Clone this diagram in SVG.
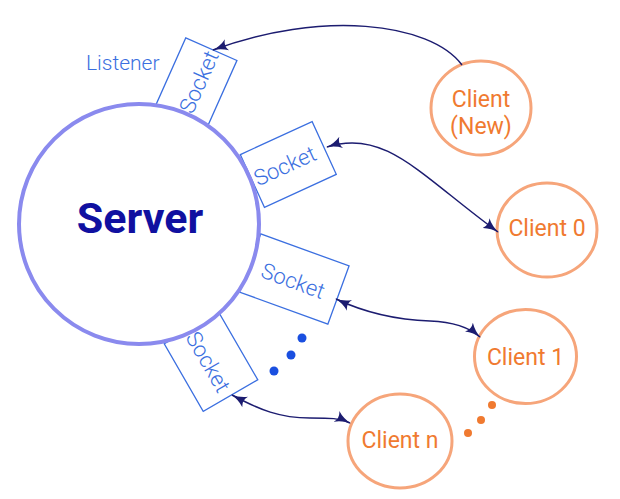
<svg xmlns="http://www.w3.org/2000/svg" width="620" height="499" viewBox="0 0 620 499">
<style>
.sock{fill:#fff;stroke:#3b6fe0;stroke-width:1.3}
.stxt{font-family:Roboto,"Liberation Sans",sans-serif;font-size:22px;font-weight:300;fill:#3b6fe0;text-anchor:middle;dominant-baseline:central}
.cli{fill:#fff;stroke:#f6a57a;stroke-width:3}
.ctxt{font-family:Roboto,"Liberation Sans",sans-serif;font-size:23px;fill:#f07a30;text-anchor:middle}
.con{fill:none;stroke:#1c1c70;stroke-width:1.5}
.bdot{fill:#1a4fe0}
.odot{fill:#f07a30}
</style>
<defs>
<marker id="arr" viewBox="0 0 16 12" refX="15" refY="6" markerWidth="16" markerHeight="12" markerUnits="userSpaceOnUse" orient="auto-start-reverse">
<path d="M0,0 Q7,5 16,6 Q7,7 0,12 Q4,6 0,0 Z" fill="#1c1c70"/>
</marker>
</defs>
<rect width="620" height="499" fill="#fff"/>
<g id="sockets">
<g id="socket-listener"><rect class="sock" x="-36.5" y="-28" width="73" height="56" transform="translate(196.5,82.5) rotate(-66)"/></g>
<g id="socket-0"><rect class="sock" x="-39.5" y="-29" width="79" height="58" transform="translate(288.3,164.5) rotate(-24.6)"/></g>
<g id="socket-1"><rect class="sock" x="-47" y="-31" width="94" height="62" transform="translate(294.3,279) rotate(20)"/></g>
<g id="socket-n"><rect class="sock" x="-39" y="-31.5" width="78" height="63" transform="translate(211,361.8) rotate(60)"/></g>
</g>
<g id="server">
<circle cx="139" cy="224" r="120" fill="#fff" stroke="#8a8aee" stroke-width="4"/>
<text x="140" y="233" font-family="Roboto,'Liberation Sans',sans-serif" font-size="43" font-weight="bold" fill="#1010a0" text-anchor="middle">Server</text>
</g>
<g id="socket-labels">
<text class="stxt" transform="translate(199,82) rotate(-66)">Socket</text>
<text class="stxt" transform="translate(285,166) rotate(-24.6)">Socket</text>
<text class="stxt" transform="translate(293,281) rotate(20)">Socket</text>
<text class="stxt" transform="translate(208,362) rotate(60)">Socket</text>
</g>
<g id="listener-label">
<text x="86" y="70" font-family="Roboto,'Liberation Sans',sans-serif" font-size="21" font-weight="300" fill="#3b6fe0">Listener</text>
</g>
<g id="client-new"><ellipse class="cli" cx="481" cy="108" rx="50" ry="47"/><text class="ctxt" x="481" y="107">Client</text><text class="ctxt" x="481" y="134">(New)</text></g>
<g id="client-0"><ellipse class="cli" cx="547" cy="230" rx="50" ry="47"/><text class="ctxt" x="547" y="236">Client 0</text></g>
<g id="client-1"><ellipse class="cli" cx="525.5" cy="356.5" rx="51" ry="47"/><text class="ctxt" x="525.5" y="365">Client 1</text></g>
<g id="client-n"><ellipse class="cli" cx="400" cy="441" rx="52" ry="47"/><text class="ctxt" x="400" y="448">Client n</text></g>
<g id="dots">
<circle class="bdot" cx="302" cy="338" r="4.5"/><circle class="bdot" cx="291" cy="355" r="4.5"/><circle class="bdot" cx="274" cy="371" r="4.5"/>
<circle class="odot" cx="492" cy="405" r="4"/><circle class="odot" cx="481" cy="420" r="4"/><circle class="odot" cx="468" cy="433" r="4"/>
</g>
<g id="connectors">
<path class="con" d="M462,65 C430,22 320,10 213,50" marker-end="url(#arr)"/>
<path class="con" d="M327,147 C385,128 420,175 498,232" marker-start="url(#arr)" marker-end="url(#arr)"/>
<path class="con" d="M336,299 C370,315 400,320 430,321 C455,322 470,328 480,337" marker-start="url(#arr)" marker-end="url(#arr)"/>
<path class="con" d="M232,395 C260,410 280,418 310,418 C330,418 340,418 350,423" marker-start="url(#arr)" marker-end="url(#arr)"/>
</g>
</svg>
